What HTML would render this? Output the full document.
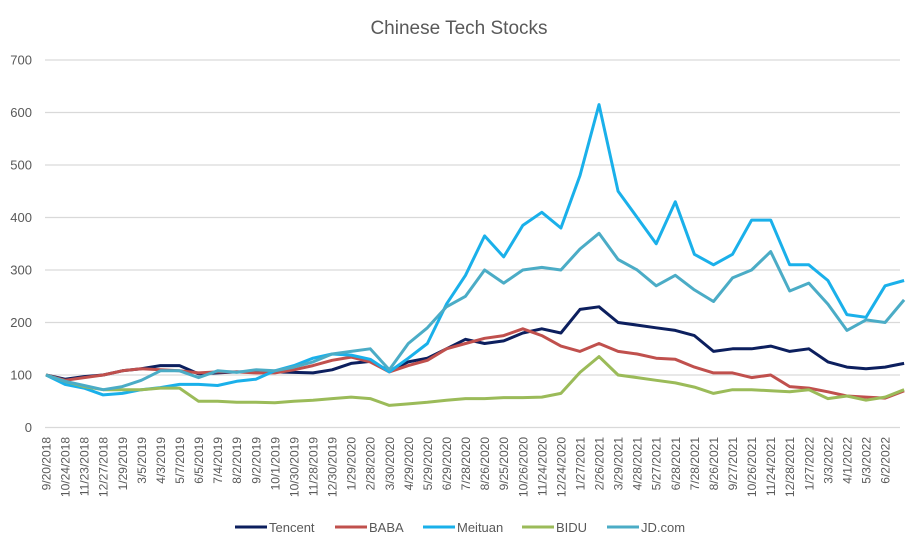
<!DOCTYPE html>
<html><head><meta charset="utf-8"><style>
html,body{margin:0;padding:0;background:#fff;}
svg{display:block;font-family:"Liberation Sans",sans-serif;}
</style></head><body>
<svg id="chart" width="918" height="551" viewBox="0 0 918 551">
<text x="459" y="34" text-anchor="middle" font-size="19" fill="#595959">Chinese Tech Stocks</text>
<g id="grid"></g>
<g id="yaxis"></g>
<g id="xaxis"></g>
<g id="series"></g>
<g id="legend"></g>
</svg>
<script>
const dates = ["9/20/2018","10/24/2018","11/23/2018","12/27/2018","1/29/2019","3/5/2019","4/3/2019","5/7/2019","6/5/2019","7/4/2019","8/2/2019","9/2/2019","10/1/2019","10/30/2019","11/28/2019","12/30/2019","1/29/2020","2/28/2020","3/30/2020","4/29/2020","5/29/2020","6/29/2020","7/28/2020","8/26/2020","9/25/2020","10/26/2020","11/24/2020","12/24/2020","1/27/2021","2/26/2021","3/29/2021","4/28/2021","5/27/2021","6/28/2021","7/28/2021","8/26/2021","9/27/2021","10/26/2021","11/24/2021","12/28/2021","1/27/2022","3/3/2022","4/1/2022","5/3/2022","6/2/2022"];
const yTicks = [0,100,200,300,400,500,600,700];
const tencent = [100,92,97,100,108,112,118,118,102,104,106,106,106,105,104,110,122,126,108,125,132,150,168,160,165,180,188,180,225,230,200,195,190,185,175,145,150,150,155,145,150,125,115,112,115,122];
const baba = [100,90,95,100,108,112,110,108,104,106,106,104,104,110,118,128,134,125,106,118,128,150,160,170,175,188,175,155,145,160,145,140,132,130,115,104,104,95,100,78,75,68,60,58,56,70];
const meituan = [100,82,75,62,65,72,76,82,82,80,88,92,108,118,132,140,138,130,106,132,160,235,290,365,325,385,410,380,480,615,450,400,350,430,330,310,330,395,395,310,310,280,215,210,270,280];
const bidu = [100,88,78,72,72,72,75,75,50,50,48,48,47,50,52,55,58,55,42,45,48,52,55,55,57,57,58,65,105,135,100,95,90,85,77,65,72,72,70,68,72,55,60,52,58,72];
const jd = [100,88,80,72,78,90,108,108,95,108,105,110,108,115,125,140,145,150,110,160,190,230,250,300,275,300,305,300,340,370,320,300,270,290,262,240,285,300,335,260,275,235,185,205,200,243];
const seriesNames = ["Tencent","BABA","Meituan","BIDU","JD.com"];
const seriesColors = ["#0c1f5e","#c0504d","#1ab0ea","#9bbb59","#4bacc6"];
const NS="http://www.w3.org/2000/svg";
function xScale(i){return 46+i*19.07;}
function yScale(v){return 427.5-v*0.525;}
function mk(tag,attrs,parent){const e=document.createElementNS(NS,tag);for(const k in attrs)e.setAttribute(k,attrs[k]);parent.appendChild(e);return e;}
const grid=document.getElementById('grid'),yaxis=document.getElementById('yaxis'),xaxis=document.getElementById('xaxis'),series=document.getElementById('series'),legend=document.getElementById('legend');
yTicks.forEach(t=>{
  const l=mk('line',{x1:45,x2:900,y1:yScale(t),y2:yScale(t),stroke:'#d9d9d9','stroke-width':1.3},grid);
  
  
  const tx=mk('text',{x:32,y:yScale(t)+4.5,'text-anchor':'end','font-size':13,fill:'#595959'},yaxis);
  tx.textContent=t;
  
  
});
dates.forEach((d,i)=>{
  const x=xScale(i);
  const tx=mk('text',{x:0,y:0,'text-anchor':'end','font-size':12,fill:'#595959',transform:'translate('+(x+4.5)+',437) rotate(-90)'},xaxis);
  tx.textContent=d;
  
  
});
[tencent,baba,meituan,bidu,jd].forEach((arr,s)=>{
  const pts=arr.map((v,i)=>xScale(i).toFixed(1)+','+yScale(v).toFixed(1)).join(' ');
  const p=mk('polyline',{points:pts,fill:'none',stroke:seriesColors[s],'stroke-width':3,'stroke-linejoin':'round'},series);
  
  
});
const legX=[235,335,423,522,607];
seriesNames.forEach((n,s)=>{
  const g=mk('g',{},legend);
  
  
  mk('line',{x1:legX[s],x2:legX[s]+32,y1:527,y2:527,stroke:seriesColors[s],'stroke-width':3},g);
  const t=mk('text',{x:legX[s]+34,y:532,'font-size':13,fill:'#595959'},g);
  t.textContent=n;
});
</script>
</body></html>
